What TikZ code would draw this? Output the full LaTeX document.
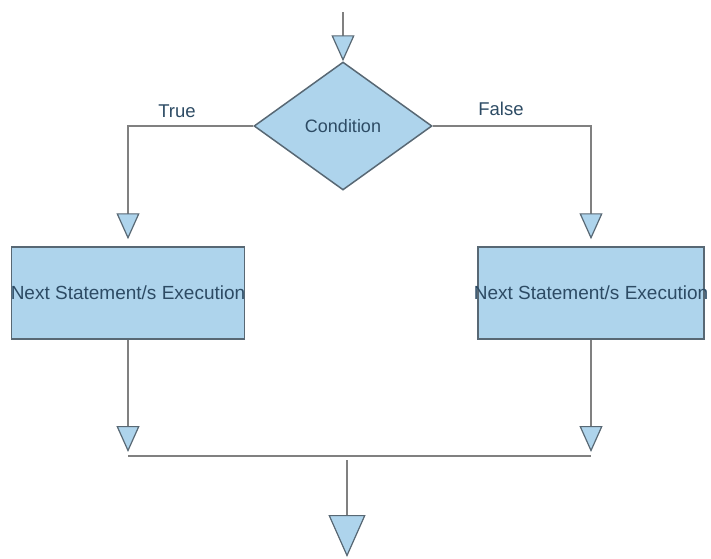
\documentclass[tikz,border=0pt]{standalone}
\usepackage{fontspec}
\setmainfont{Liberation Sans}
\usetikzlibrary{shapes.geometric,arrows.meta,positioning}

\definecolor{shapefill}{RGB}{174,212,236}
\definecolor{shapeline}{RGB}{88,104,116}
\definecolor{flowline}{RGB}{128,128,128}
\definecolor{labeltext}{RGB}{45,75,100}

\tikzset{
  flowbox/.style={draw=shapeline, fill=shapefill, line width=1.5pt, inner ysep=0pt,
    inner xsep=-5pt, minimum height=92pt, text=labeltext, font=\fontsize{19}{22}\selectfont},
  decision/.style={diamond, aspect=1.4, draw=shapeline, fill=shapefill, line width=1.5pt,
    inner sep=0pt, minimum width=178pt, minimum height=128pt,
    text=labeltext, font=\fontsize{18}{21}\selectfont},
  branchlabel/.style={text=labeltext, font=\fontsize{18.5}{21}\selectfont},
  flowarrow/.style={draw=flowline, line width=1.6pt,
    -{Triangle[length=26pt,width=23pt,color=shapeline,fill=shapefill,line width=1.2pt]}},
  bigarrow/.style={draw=flowline, line width=1.6pt,
    -{Triangle[length=42pt,width=37pt,color=shapeline,fill=shapefill,line width=1.2pt]}},
  flowjoin/.style={draw=flowline, line width=1.6pt}
}

\begin{document}
\begin{tikzpicture}[x=1pt,y=-1pt]
    \useasboundingbox (0,0) rectangle (711,558);
    % shapes
    \coordinate (in) at (343,12);
    \node[decision] (cond) at (343,126) {Condition};
    \node[flowbox, minimum width=233pt] (stmtT) at (128,293) {Next Statement/s Execution};
    \node[flowbox, minimum width=226pt] (stmtF) at (591,293) {Next Statement/s Execution};
    % branch labels
    \node[branchlabel] (lblT) at (177,111) {True};
    \node[branchlabel] (lblF) at (501,109) {False};
    % join points
    \coordinate (joinT) at (stmtT.south |- 0,456);
    \coordinate (joinF) at (stmtF.south |- 0,456);
    \coordinate (joinM) at (347,456);
    \coordinate (out) at (347,557);
    % connectors
    \draw[flowarrow] (in) -- (cond.north);
    \draw[flowarrow] (cond.west) -| ([yshift=7pt]stmtT.north);
    \draw[flowarrow] (cond.east) -| ([yshift=7pt]stmtF.north);
    \draw[flowarrow] (stmtT.south) -- ([yshift=4pt]joinT);
    \draw[flowarrow] (stmtF.south) -- ([yshift=4pt]joinF);
    \draw[flowjoin] (joinT) -- (joinF);
    \draw[bigarrow] ([yshift=-4pt]joinM) -- (out);
\end{tikzpicture}
\end{document}
